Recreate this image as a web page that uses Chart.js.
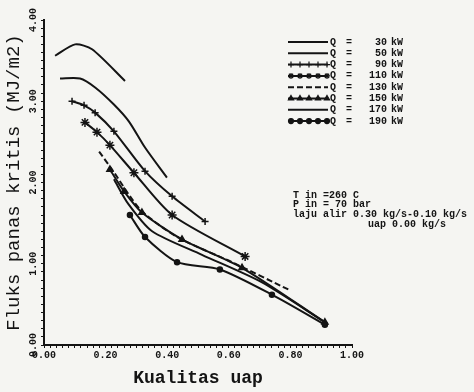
<!DOCTYPE html>
<html><head><meta charset="utf-8">
<script src="https://cdn.jsdelivr.net/npm/chart.js@4/dist/chart.umd.min.js"></script>
<style>html,body{margin:0;padding:0;background:#f5f5f2;}#wrap{width:474px;height:392px;position:relative}</style>
</head><body><div id="wrap"><canvas id="c" width="474" height="392"></canvas></div>
<script>
// Tick labels
const xTickLabels = ['0.00','0.20','0.40','0.60','0.80','1.00'];
const yTickLabels = ['0.00','1.00','2.00','3.00','4.00'];
// Series names (kW)
const seriesNames = ['30','50','90','110','130','150','170','190'];
// Steam quality (x) and critical heat flux (y, MJ/m2) for each series
const q30  = [0.036, 0.101, 0.156, 0.263];
const f30  = [3.56, 3.70, 3.64, 3.25];
const q50  = [0.052, 0.117, 0.166, 0.227, 0.276, 0.328, 0.399];
const f50  = [3.28, 3.28, 3.17, 2.96, 2.75, 2.43, 2.06];
const q90  = [0.091, 0.130, 0.166, 0.227, 0.328, 0.416, 0.523];
const f90  = [3.00, 2.95, 2.86, 2.63, 2.14, 1.83, 1.52];
const q110 = [0.133, 0.172, 0.214, 0.292, 0.416, 0.653];
const f110 = [2.74, 2.62, 2.46, 2.12, 1.60, 1.09];
const q130 = [0.179, 0.221, 0.312, 0.432, 0.610, 0.795];
const f130 = [2.38, 2.16, 1.67, 1.33, 1.02, 0.68];
const q150 = [0.214, 0.260, 0.318, 0.448, 0.643, 0.912];
const f150 = [2.16, 1.89, 1.63, 1.30, 0.95, 0.28];
const q170 = [0.227, 0.273, 0.351, 0.513, 0.708, 0.912];
const f170 = [2.04, 1.74, 1.40, 1.11, 0.77, 0.28];
const q190 = [0.279, 0.328, 0.432, 0.571, 0.740, 0.912];
const f190 = [1.60, 1.33, 1.02, 0.93, 0.62, 0.25];
const noteLines = ['T in =260 C', 'P in = 70 bar', 'laju alir 0.30 kg/s-0.10 kg/s', 'uap 0.00 kg/s'];

const INK = '#141414';
const MONO = "'Liberation Mono', 'DejaVu Sans Mono', monospace";
const pts = (xs, ys) => xs.map((x, i) => ({x, y: ys[i]}));
const styles = [
  {w:2, dash:[], ps:false, r:0},
  {w:2, dash:[], ps:false, r:0},
  {w:2, dash:[], ps:'cross', r:3.5},
  {w:2, dash:[], ps:'star', r:4.5},
  {w:2, dash:[6,3], ps:false, r:0},
  {w:2, dash:[], ps:'triangle', r:3.5},
  {w:2, dash:[], ps:false, r:0},
  {w:2, dash:[], ps:'circle', r:2.5}
];
const dataPairs = [[q30,f30],[q50,f50],[q90,f90],[q110,f110],[q130,f130],[q150,f150],[q170,f170],[q190,f190]];
const datasets = dataPairs.map((p, i) => ({
  label: 'Q = ' + seriesNames[i] + ' kW',
  data: pts(p[0], p[1]),
  borderColor: INK, backgroundColor: INK,
  borderWidth: styles[i].w, borderDash: styles[i].dash,
  pointStyle: styles[i].ps || 'circle', pointRadius: styles[i].r,
  pointBorderWidth: 1.5, pointBackgroundColor: INK, pointBorderColor: INK,
  tension: 0.25, fill: false
}));

const deco = {
  id: 'deco',
  beforeDraw(chart) {
    const c = chart.ctx; c.save(); c.fillStyle = '#f5f5f2'; c.fillRect(0, 0, chart.width, chart.height); c.restore();
  },
  afterDraw(chart) {
    const c = chart.ctx; c.save();
    // legend
    chart.data.datasets.forEach((ds, i) => {
      const y = 42 + i * 11.3;
      c.strokeStyle = INK; c.lineWidth = ds.borderWidth; c.setLineDash(ds.borderDash || []);
      c.beginPath(); c.moveTo(288, y); c.lineTo(328, y); c.stroke(); c.setLineDash([]);
      if (ds.pointRadius > 0) {
        [291, 300, 309, 318, 327].forEach(px => {
          if (Chart.helpers && Chart.helpers.drawPoint) {
            c.fillStyle = INK; c.strokeStyle = INK; c.lineWidth = 1.2;
            Chart.helpers.drawPoint(c, {pointStyle: ds.pointStyle, radius: Math.min(ds.pointRadius, 3), borderWidth: 1.2, rotation: 0}, px, y);
          }
        });
      }
      c.fillStyle = INK; c.font = 'bold 10px ' + MONO; c.textBaseline = 'middle';
      c.textAlign = 'left'; c.fillText('Q', 330, y);
      c.fillText('=', 346, y);
      c.textAlign = 'right'; c.fillText(seriesNames[i], 387, y);
      c.textAlign = 'left'; c.fillText('kW', 391, y);
    });
    // notes
    c.font = 'bold 10px ' + MONO; c.textAlign = 'left'; c.textBaseline = 'middle'; c.fillStyle = INK;
    c.fillText(noteLines[0], 293, 195);
    c.fillText(noteLines[1], 293, 204.5);
    c.fillText(noteLines[2], 293, 214);
    c.fillText(noteLines[3], 368, 224);
    c.restore();
  }
};

new Chart(document.getElementById('c'), {
  type: 'line',
  data: {datasets},
  options: {
    responsive: false, animation: false, devicePixelRatio: 1,
    layout: {padding: {top: 20, right: 122, left: 0, bottom: 0}},
    plugins: {legend: {display: false}, tooltip: {enabled: false}},
    scales: {
      x: {
        type: 'linear', min: 0, max: 1, position: 'bottom',
        afterFit: s => { s.height = 47; },
        ticks: {
          stepSize: 0.02, autoSkip: false, maxRotation: 0, minRotation: 0, padding: 1,
          color: INK, font: {family: MONO, size: 10, weight: 'bold'},
          callback: v => { const k = Math.round(v * 100); return k % 20 === 0 ? xTickLabels[k / 20] : ''; }
        },
        grid: {display: true, drawOnChartArea: false, drawTicks: true, tickLength: 3, color: INK, lineWidth: 1},
        border: {display: true, color: INK, width: 2},
        title: {display: true, text: 'Kualitas uap', color: INK, font: {family: MONO, size: 18, weight: 'bold'}, padding: {top: 0, bottom: 3}}
      },
      y: {
        type: 'linear', min: 0, max: 4, position: 'left',
        afterFit: s => { s.width = 44; },
        ticks: {
          stepSize: 0.1, autoSkip: false, minRotation: 90, maxRotation: 90, crossAlign: 'center', padding: -4,
          color: INK, font: {family: MONO, size: 10, weight: 'bold'},
          callback: v => { const k = Math.round(v * 10); return k % 10 === 0 ? yTickLabels[k / 10] : ''; }
        },
        grid: {display: true, drawOnChartArea: false, drawTicks: true, tickLength: 3, color: INK, lineWidth: 1},
        border: {display: true, color: INK, width: 2},
        title: {display: true, text: 'Fluks panas kritis (MJ/m2)', color: INK, font: {family: MONO, size: 19}, padding: {top: 3, bottom: 0}}
      }
    }
  },
  plugins: [deco]
});
</script></body></html>
